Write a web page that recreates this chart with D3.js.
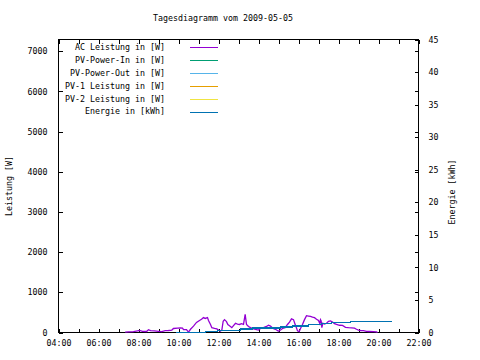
<!DOCTYPE html>
<html>
<head>
<meta charset="utf-8">
<script src="https://cdn.jsdelivr.net/npm/d3@7"></script>
<style>
        body { margin: 0; background: #fff; }
        text { font-family: "DejaVu Sans Mono", monospace; font-size: 8.3px; fill: #000; }
</style>
</head>
<body>
<svg id="chart" width="480" height="360"></svg>
<script>

// AC Leistung [W]
const acTimes = ["07:20","07:30","07:45","07:57","08:03","08:12","08:24","08:30","08:36","08:48",
                 "09:00","09:10","09:20","09:30","09:40","09:45","09:57","10:06","10:12","10:15",
                 "10:24","10:30","10:36","10:45","10:54","11:03","11:09","11:15","11:20","11:27",
                 "11:30","11:36","11:40","11:48","11:55","12:00","12:05","12:10","12:14","12:18",
                 "12:24","12:28","12:33","12:40","12:45","12:51","12:57","13:03","13:09","13:15",
                 "13:20","13:24","13:30","13:36","13:45","13:51","14:00","14:06","14:15","14:24",
                 "14:30","14:36","14:42","14:51","15:00","15:06","15:12","15:20","15:27","15:33",
                 "15:39","15:45","15:50","15:54","15:57","16:02","16:06","16:12","16:18","16:24",
                 "16:30","16:36","16:42","16:48","16:54","17:00","17:04","17:06","17:08","17:10",
                 "17:13","17:18","17:24","17:30","17:36","17:42","17:48","17:54","18:03","18:12",
                 "18:21","18:30","18:39","18:48","18:54","19:00","19:06","19:15","19:24","19:33",
                 "19:45","19:54","19:57"];
const acValues = [10,15,20,40,50,30,25,70,45,40,
                  30,20,45,50,60,100,110,115,110,70,
                  70,10,80,160,250,300,330,370,350,370,
                  300,200,120,100,90,60,30,60,280,320,
                  270,200,170,120,170,230,210,200,220,200,
                  450,200,150,120,90,80,60,100,120,150,
                  180,160,110,80,30,60,100,120,200,260,
                  340,320,200,110,40,20,100,200,320,420,
                  410,400,380,370,330,300,220,320,290,120,
                  230,210,230,280,290,260,220,200,180,175,
                  130,120,115,110,80,60,50,45,30,25,
                  20,15,0];

// Energie [kWh], stepwise counter
const energyTimes = ["09:51","11:21","11:56","13:06","13:41","15:06","15:41","16:30","17:10","17:40","18:36","20:41"];
const energyValues = [0,0.15,0.35,0.55,0.7,0.85,1.0,1.2,1.35,1.5,1.65,1.65];

const legendNames = ["AC Leistung in [W]","PV-Power-In in [W]","PV-Power-Out in [W]",
                     "PV-1 Leistung in [W]","PV-2 Leistung in [W]","Energie in [kWh]"];
const legendColors = ["#9400d3","#009e73","#56b4e9","#e69f00","#f0e442","#0072b2"];

const leftTicks = [0,1000,2000,3000,4000,5000,6000,7000];
const rightTicks = [0,5,10,15,20,25,30,35,40,45];
const timeRange = ["04:00","22:00"];

const title = "Tagesdiagramm vom 2009-05-05";

const margin = {top: 39.5, left: 58.5};
const width = 360, height = 293;

const svg = d3.select("#chart");
const parse = d3.timeParse("%H:%M");

const x = d3.scaleTime().domain(timeRange.map(parse)).range([0, width]);
const y = d3.scaleLinear().domain([0, 7290]).range([height, 0]);
const y2 = d3.scaleLinear().domain([0, 45]).range([height, 0]);

const g = svg.append("g").attr("transform", `translate(${margin.left}, ${margin.top})`);

// hourly ticks, label every second hour
const hours = d3.timeHour.every(1).range(x.domain()[0], d3.timeMinute.offset(x.domain()[1], 1));
const hourFmt = d3.timeFormat("%H:%M");

function clean(sel){
        sel.select(".domain").remove();
        sel.selectAll("line").attr("stroke", "#000").attr("shape-rendering", "crispEdges");
        sel.selectAll("text").attr("font-family", null).attr("font-size", null);
}

g.append("g")
        .attr("transform", `translate(0, ${height})`)
        .call(d3.axisBottom(x).tickValues(hours).tickSizeInner(-4).tickSizeOuter(0).tickPadding(8)
                .tickFormat(d => d.getHours() % 2 === 0 ? hourFmt(d) : ""))
        .call(clean);

g.append("g")
        .call(d3.axisTop(x).tickValues(hours).tickSizeInner(-4).tickSizeOuter(0).tickFormat(""))
        .call(clean);

g.append("g")
        .call(d3.axisLeft(y).tickValues(leftTicks).tickSizeInner(-4).tickSizeOuter(0).tickPadding(11)
                .tickFormat(d3.format("d")))
        .call(clean);

// mirrored left ticks on right border
g.append("g")
        .attr("transform", `translate(${width}, 0)`)
        .call(d3.axisRight(y).tickValues(leftTicks).tickSizeInner(-4).tickSizeOuter(0).tickFormat(""))
        .call(clean);

g.append("g")
        .attr("transform", `translate(${width}, 0)`)
        .call(d3.axisRight(y2).tickValues(rightTicks).tickSizeInner(-4).tickSizeOuter(0).tickPadding(10)
                .tickFormat(d3.format("d")))
        .call(clean);

// frame
g.append("rect")
        .attr("width", width).attr("height", height)
        .attr("fill", "none").attr("stroke", "#000").attr("shape-rendering", "crispEdges");

// data lines
const acData = acTimes.map((t, i) => ({t: parse(t), v: acValues[i]}));
const energyData = energyTimes.map((t, i) => ({t: parse(t), v: energyValues[i]}));

g.append("path")
        .datum(acData)
        .attr("fill", "none")
        .attr("stroke", legendColors[0])
        .attr("stroke-width", 1.3)
        .attr("d", d3.line().x(d => x(d.t)).y(d => y(d.v)));

g.append("path")
        .datum(energyData)
        .attr("fill", "none")
        .attr("stroke", legendColors[5])
        .attr("stroke-width", 1.3)
        .attr("shape-rendering", "crispEdges")
        .attr("d", d3.line().curve(d3.curveStepAfter).x(d => x(d.t)).y(d => y2(d.v)));

// legend
const legend = svg.append("g");
legendNames.forEach((name, idx) => {
        let ly = 47 + idx * 12.9;
        legend.append("text")
                .attr("x", 165).attr("y", ly).attr("dy", "0.35em")
                .attr("text-anchor", "end")
                .text(name);
        legend.append("line")
                .attr("x1", 190).attr("x2", 218)
                .attr("y1", Math.round(ly) + 0.5).attr("y2", Math.round(ly) + 0.5)
                .attr("stroke", legendColors[idx]);
});

// title and axis names
svg.append("text").attr("x", 223).attr("y", 21).attr("text-anchor", "middle").text(title);

svg.append("text")
        .attr("transform", "translate(12, 186) rotate(-90)")
        .attr("text-anchor", "middle")
        .text("Leistung [W]");

svg.append("text")
        .attr("transform", "translate(455, 192) rotate(-90)")
        .attr("text-anchor", "middle")
        .text("Energie [kWh]");

</script>
</body>
</html>
